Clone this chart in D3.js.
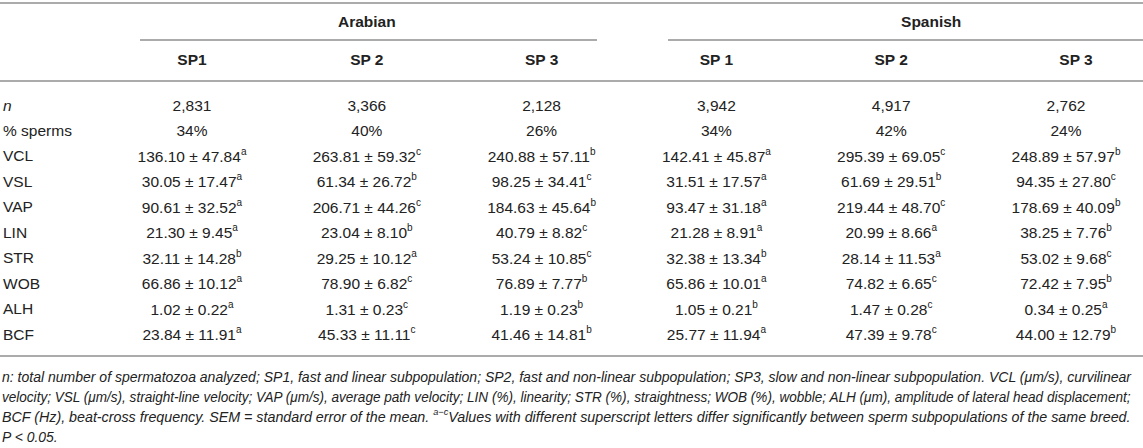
<!DOCTYPE html>
<html><head><meta charset="utf-8">
<script src="https://cdn.jsdelivr.net/npm/d3@7"></script>
<style>
html,body{margin:0;padding:0;background:#fff;}
svg{display:block;}
</style></head>
<body>
<svg id="chart" width="1143" height="448"></svg>
<script>
// ---------- data ----------
const breeds = ["Arabian", "Spanish"];
const columnLabels = ["SP1", "SP 2", "SP 3", "SP 1", "SP 2", "SP 3"];
const rowLabels = ["n", "% sperms", "VCL", "VSL", "VAP", "LIN", "STR", "WOB", "ALH", "BCF"];
const nValues = [2831, 3366, 2128, 3942, 4917, 2762];
const pctSperms = [34, 40, 26, 34, 42, 24];
const params = ["VCL", "VSL", "VAP", "LIN", "STR", "WOB", "ALH", "BCF"];
const meanValues = [
  [136.10, 263.81, 240.88, 142.41, 295.39, 248.89],
  [30.05, 61.34, 98.25, 31.51, 61.69, 94.35],
  [90.61, 206.71, 184.63, 93.47, 219.44, 178.69],
  [21.30, 23.04, 40.79, 21.28, 20.99, 38.25],
  [32.11, 29.25, 53.24, 32.38, 28.14, 53.02],
  [66.86, 78.90, 76.89, 65.86, 74.82, 72.42],
  [1.02, 1.31, 1.19, 1.05, 1.47, 0.34],
  [23.84, 45.33, 41.46, 25.77, 47.39, 44.00]
];
const semValues = [
  [47.84, 59.32, 57.11, 45.87, 69.05, 57.97],
  [17.47, 26.72, 34.41, 17.57, 29.51, 27.80],
  [32.52, 44.26, 45.64, 31.18, 48.70, 40.09],
  [9.45, 8.10, 8.82, 8.91, 8.66, 7.76],
  [14.28, 10.12, 10.85, 13.34, 11.53, 9.68],
  [10.12, 6.82, 7.77, 10.01, 6.65, 7.95],
  [0.22, 0.23, 0.23, 0.21, 0.28, 0.25],
  [11.91, 11.11, 14.81, 11.94, 9.78, 12.79]
];
const superscripts = [
  ["a", "c", "b", "a", "c", "b"],
  ["a", "b", "c", "a", "b", "c"],
  ["a", "c", "b", "a", "c", "b"],
  ["a", "b", "c", "a", "a", "b"],
  ["b", "a", "c", "b", "a", "c"],
  ["a", "c", "b", "a", "c", "b"],
  ["a", "c", "b", "b", "c", "a"],
  ["a", "c", "b", "a", "c", "b"]
];
const captionLines = [
  [{t: "n: total number of spermatozoa analyzed; SP1, fast and linear subpopulation; SP2, fast and non-linear subpopulation; SP3, slow and non-linear subpopulation. VCL (μm/s), curvilinear"}],
  [{t: "velocity; VSL (μm/s), straight-line velocity; VAP (μm/s), average path velocity; LIN (%), linearity; STR (%), straightness; WOB (%), wobble; ALH (μm), amplitude of lateral head displacement;"}],
  [{t: "BCF (Hz), beat-cross frequency. SEM = standard error of the mean. "}, {t: "a−c", sup: true}, {t: "Values with different superscript letters differ significantly between sperm subpopulations of the same breed."}],
  [{t: "P < 0.05."}]
];

// ---------- layout ----------
const W = 1143;
const svg = d3.select("#chart");
const textColor = "#222222";
const ruleColor = "#ababab";
const font = "'Liberation Sans', Arial, Helvetica, sans-serif";
const fs = 15.5;

const cols = d3.range(columnLabels.length);
const x = d3.scalePoint().domain(cols).range([192, 1066]);
const y = d3.scalePoint().domain(rowLabels).range([105, 334]);
const fmtN = d3.format(",");
const fmt2 = d3.format(".2f");

// rules
const rules = [
  {x1: 0, x2: W, y: 3},
  {x1: 140, x2: 597, y: 40},
  {x1: 668, x2: W, y: 40},
  {x1: 0, x2: W, y: 81},
  {x1: 0, x2: W, y: 356}
];
svg.selectAll("line.rule").data(rules).join("line")
  .attr("class", "rule")
  .attr("x1", d => d.x1).attr("x2", d => d.x2)
  .attr("y1", d => d.y).attr("y2", d => d.y)
  .attr("stroke", ruleColor).attr("stroke-width", 2);

// breed headers
const breedX = [x(1), x(4) + 40];
svg.selectAll("text.breed").data(breeds).join("text")
  .attr("class", "breed")
  .attr("x", (d, i) => breedX[i]).attr("y", 21)
  .attr("text-anchor", "middle").attr("dominant-baseline", "central")
  .attr("font-family", font).attr("font-size", fs).attr("font-weight", "bold")
  .attr("fill", textColor).text(d => d);

// column headers
svg.selectAll("text.colhead").data(columnLabels).join("text")
  .attr("class", "colhead")
  .attr("x", (d, i) => x(i) + (i === 5 ? 10 : 0)).attr("y", 59)
  .attr("text-anchor", "middle").attr("dominant-baseline", "central")
  .attr("font-family", font).attr("font-size", fs).attr("font-weight", "bold")
  .attr("fill", textColor).text(d => d);

// row labels
svg.selectAll("text.rowlab").data(rowLabels).join("text")
  .attr("class", "rowlab")
  .attr("x", 3).attr("y", d => y(d))
  .attr("dominant-baseline", "central")
  .attr("font-family", font).attr("font-size", fs)
  .attr("font-style", d => d === "n" ? "italic" : "normal")
  .attr("fill", textColor).text(d => d);

// n and % rows
svg.selectAll("text.nval").data(nValues).join("text")
  .attr("class", "nval")
  .attr("x", (d, i) => x(i)).attr("y", y("n"))
  .attr("text-anchor", "middle").attr("dominant-baseline", "central")
  .attr("font-family", font).attr("font-size", fs)
  .attr("fill", textColor).text(d => fmtN(d));
svg.selectAll("text.pval").data(pctSperms).join("text")
  .attr("class", "pval")
  .attr("x", (d, i) => x(i)).attr("y", y("% sperms"))
  .attr("text-anchor", "middle").attr("dominant-baseline", "central")
  .attr("font-family", font).attr("font-size", fs)
  .attr("fill", textColor).text(d => d + "%");

// parameter rows
const cells = [];
params.forEach((p, r) => cols.forEach(c => cells.push({p, c, m: meanValues[r][c], s: semValues[r][c], sup: superscripts[r][c]})));
const cellText = svg.selectAll("text.cell").data(cells).join("text")
  .attr("class", "cell")
  .attr("x", d => x(d.c)).attr("y", d => y(d.p))
  .attr("text-anchor", "middle").attr("dominant-baseline", "central")
  .attr("font-family", font).attr("font-size", fs)
  .attr("fill", textColor);
cellText.append("tspan").text(d => fmt2(d.m) + " ± " + fmt2(d.s));
cellText.append("tspan").attr("font-size", 10).attr("dy", -5).text(d => d.sup);

// caption (horizontally condensed to fit the width)
const capY = d3.scalePoint().domain(d3.range(captionLines.length)).range([377, 437]);
const capTargets = [1130, 1130, 1130, null];
let sxCommon = 1;
const capTexts = captionLines.map((parts, i) => {
  const t = svg.append("text")
    .attr("x", 0).attr("y", 0)
    .attr("dominant-baseline", "central")
    .attr("font-family", font).attr("font-size", 14).attr("font-style", "italic")
    .attr("fill", textColor);
  parts.forEach((p, k) => {
    const ts = t.append("tspan").text(p.t);
    if (p.sup) ts.attr("font-size", 9).attr("dy", -5);
    else if (k > 0) ts.attr("dy", 5);
  });
  return t;
});
const scales = capTexts.map((t, i) => capTargets[i] ? capTargets[i] / t.node().getComputedTextLength() : null);
const valid = scales.filter(s => s);
sxCommon = d3.mean(valid);
capTexts.forEach((t, i) => {
  const sx = scales[i] || sxCommon;
  t.attr("transform", `translate(2,${capY(i)}) scale(${sx},1)`);
});
</script>
</body></html>
